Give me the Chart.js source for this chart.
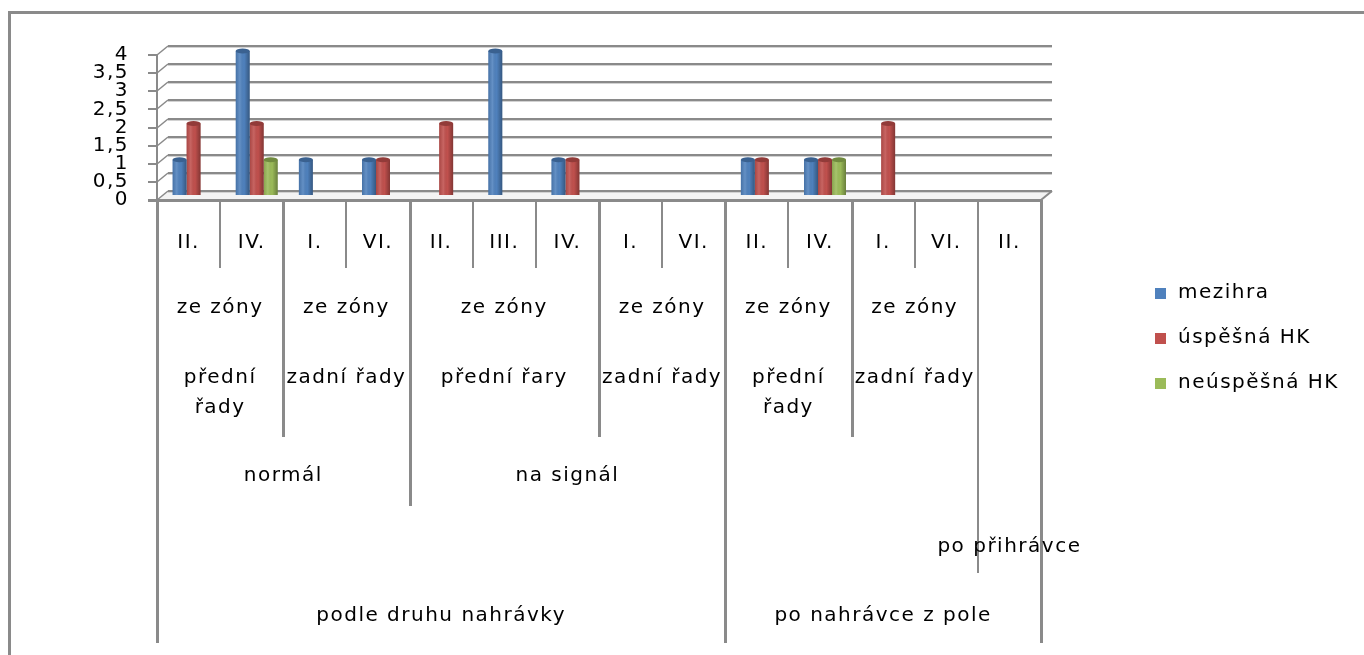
<!DOCTYPE html>
<html lang="cs">
<head>
<meta charset="UTF-8" />
<title>Mezihra a hra kombinací</title>
<script src="https://cdn.jsdelivr.net/npm/chart.js"></script>
<style>
  body { margin: 0; background: #fff; }
  canvas { display: block; }
</style>
</head>
<body>
<canvas id="chart" width="1364" height="655"></canvas>
<script>
  // categories (lowest level) and the groups above them: [label, first index, last index]
  const cats = ['II.', 'IV.', 'I.', 'VI.', 'II.', 'III.', 'IV.', 'I.', 'VI.', 'II.', 'IV.', 'I.', 'VI.', 'II.'];
  const zones = [['ze zóny', 0, 1], ['ze zóny', 2, 3], ['ze zóny', 4, 6], ['ze zóny', 7, 8], ['ze zóny', 9, 10], ['ze zóny', 11, 12]];
  const rows = [['přední\nřady', 0, 1], ['zadní řady', 2, 3], ['přední řary', 4, 6], ['zadní řady', 7, 8], ['přední\nřady', 9, 10], ['zadní řady', 11, 12]];
  const modes = [['normál', 0, 3], ['na signál', 4, 8]];
  const passes = [['po přihrávce', 13, 13]];
  const sources = [['podle druhu nahrávky', 0, 8], ['po nahrávce z pole', 9, 13]];

  // series
  const mezihra   = [1, 4, 1, 1, 0, 4, 1, 0, 0, 1, 1, 0, 0, 0];
  const uspesna   = [2, 2, 0, 1, 2, 0, 1, 0, 0, 1, 1, 2, 0, 0];
  const neuspesna = [0, 1, 0, 0, 0, 0, 0, 0, 0, 0, 1, 0, 0, 0];

  const FONT = '20px "DejaVu Sans"';
  const GRID = '#8a8a8a';
  const DX = 11, DY = -9;       // back wall offset
  const BAR_DX = 5, BAR_DY = -4; // bars sit halfway into the depth

  function line(ctx, x1, y1, x2, y2) {
    ctx.beginPath();
    ctx.moveTo(x1, y1);
    ctx.lineTo(x2, y2);
    ctx.stroke();
  }

  // back wall, floor and the 3d shift of the bars
  const wallPlugin = {
    id: 'wall',
    beforeDraw(chart) {
      chart.ctx.letterSpacing = '1.5px';
    },
    beforeDatasetsDraw(chart) {
      const { ctx, chartArea: a, scales: { y } } = chart;
      ctx.save();
      ctx.fillStyle = '#f3f3f3';
      ctx.beginPath();
      ctx.moveTo(a.left, a.bottom);
      ctx.lineTo(a.left + DX, a.bottom + DY);
      ctx.lineTo(a.right + DX, a.bottom + DY);
      ctx.lineTo(a.right, a.bottom);
      ctx.closePath();
      ctx.fill();

      y.ticks.forEach(t => {
        const yf = Math.round(y.getPixelForValue(t.value));
        const yb = yf + DY;
        ctx.strokeStyle = '#d2d2d2';
        ctx.lineWidth = 1;
        line(ctx, a.left + DX, yb + 1.5, a.right + DX, yb + 1.5);
        ctx.strokeStyle = GRID;
        ctx.lineWidth = 2;
        line(ctx, a.left + DX, yb, a.right + DX, yb);
        ctx.lineWidth = 1.5;
        line(ctx, a.left, yf, a.left + DX, yb);
      });
      ctx.lineWidth = 2;
      line(ctx, a.right, a.bottom, a.right + DX, a.bottom + DY);
      ctx.lineWidth = 3;
      line(ctx, a.left - 9, a.bottom + 0.5, a.right, a.bottom + 0.5);
      ctx.restore();

      ctx.save();
      ctx.translate(BAR_DX, BAR_DY);
    },
    afterDatasetsDraw(chart) {
      const ctx = chart.ctx;
      // cylinder shading and top caps
      chart.data.datasets.forEach((ds, di) => {
        chart.getDatasetMeta(di).data.forEach((bar, i) => {
          if (!ds.data[i]) return;
          const { x, y, base, width } = bar.getProps(['x', 'y', 'base', 'width'], true);
          const l = x - width / 2;
          const g = ctx.createLinearGradient(l, 0, l + width, 0);
          g.addColorStop(0, 'rgba(0,0,0,0.12)');
          g.addColorStop(0.3, 'rgba(255,255,255,0.12)');
          g.addColorStop(0.6, 'rgba(0,0,0,0)');
          g.addColorStop(1, 'rgba(0,0,0,0.32)');
          ctx.fillStyle = g;
          ctx.fillRect(l, y, width, base - y);
          ctx.fillStyle = ds.borderColor;
          ctx.beginPath();
          ctx.ellipse(x, y, width / 2, 2.5, 0, 0, Math.PI * 2);
          ctx.fill();
        });
      });
      ctx.restore();
    }
  };

  // frame, nested category labels with their dividers, legend
  const labelPlugin = {
    id: 'labels',
    afterDraw(chart) {
      const { ctx, chartArea: a, scales: { x } } = chart;
      const edge = i => x.getPixelForValue(i - 0.5);
      ctx.save();
      ctx.strokeStyle = GRID;
      ctx.lineWidth = 3;
      ctx.beginPath();
      ctx.moveTo(9.5, chart.height);
      ctx.lineTo(9.5, 12.5);
      ctx.lineTo(chart.width, 12.5);
      ctx.stroke();

      const levels = [
        { spans: cats.map((c, i) => [c, i, i]), y: 243, end: 268, w: 2 },
        { spans: zones, y: 308, end: 437, w: 3 },
        { spans: rows, y: 378, end: 437, w: 3 },
        { spans: modes, y: 476, end: 506, w: 3 },
        { spans: passes, y: 547, end: 573, w: 2 },
        { spans: sources, y: 616, end: 643, w: 3 }
      ];

      // divider lengths follow the deepest level that has a boundary there
      const ends = new Array(cats.length + 1).fill(0);
      const widths = new Array(cats.length + 1).fill(2);
      levels.forEach(lv => lv.spans.forEach(([, f, t]) => {
        [f, t + 1].forEach(b => {
          if (lv.end > ends[b]) { ends[b] = lv.end; widths[b] = lv.w; }
        });
      }));
      ends.forEach((e, b) => {
        const px = Math.round(edge(b)) + (widths[b] % 2 ? 0.5 : 0);
        ctx.lineWidth = widths[b];
        line(ctx, px, a.bottom, px, e);
      });

      ctx.fillStyle = '#000';
      ctx.font = FONT;
      ctx.textAlign = 'center';
      ctx.textBaseline = 'middle';
      levels.forEach(lv => lv.spans.forEach(([label, f, t]) => {
        const cx = (edge(f) + edge(t + 1)) / 2;
        label.split('\n').forEach((s, k) => ctx.fillText(s, cx, lv.y + k * 30));
      }));

      ctx.textAlign = 'left';
      chart.data.datasets.forEach((ds, i) => {
        ctx.fillStyle = ds.backgroundColor;
        ctx.fillRect(1155, 288 + i * 45, 11, 11);
        ctx.fillStyle = '#000';
        ctx.fillText(ds.label, 1178, 293 + i * 45);
      });
      ctx.restore();
    }
  };

  new Chart(document.getElementById('chart'), {
    type: 'bar',
    data: {
      labels: cats,
      datasets: [
        { label: 'mezihra', data: mezihra, backgroundColor: '#4F81BD', borderColor: '#3A6190' },
        { label: 'úspěšná HK', data: uspesna, backgroundColor: '#C0504D', borderColor: '#923B39' },
        { label: 'neúspěšná HK', data: neuspesna, backgroundColor: '#9BBB59', borderColor: '#718B3F' }
      ]
    },
    options: {
      responsive: false,
      animation: false,
      devicePixelRatio: 1,
      layout: { padding: { left: 0, top: 55, right: 323, bottom: 455 } },
      datasets: { bar: { categoryPercentage: 0.665, barPercentage: 1, borderWidth: 0 } },
      plugins: { legend: { display: false }, tooltip: { enabled: false } },
      scales: {
        x: {
          grid: { display: false },
          border: { display: false },
          ticks: { display: false },
          afterFit: s => { s.height = 0; }
        },
        y: {
          min: 0,
          max: 4,
          grid: { drawOnChartArea: false, drawTicks: true, tickLength: 9, color: GRID, lineWidth: 2 },
          border: { color: GRID, width: 2 },
          ticks: {
            stepSize: 0.5,
            autoSkip: false,
            padding: 19,
            color: '#000',
            font: { family: 'DejaVu Sans', size: 20 },
            callback: v => String(v).replace('.', ',')
          },
          afterFit: s => { s.width = 157; }
        }
      }
    },
    plugins: [wallPlugin, labelPlugin]
  });
</script>
</body>
</html>
